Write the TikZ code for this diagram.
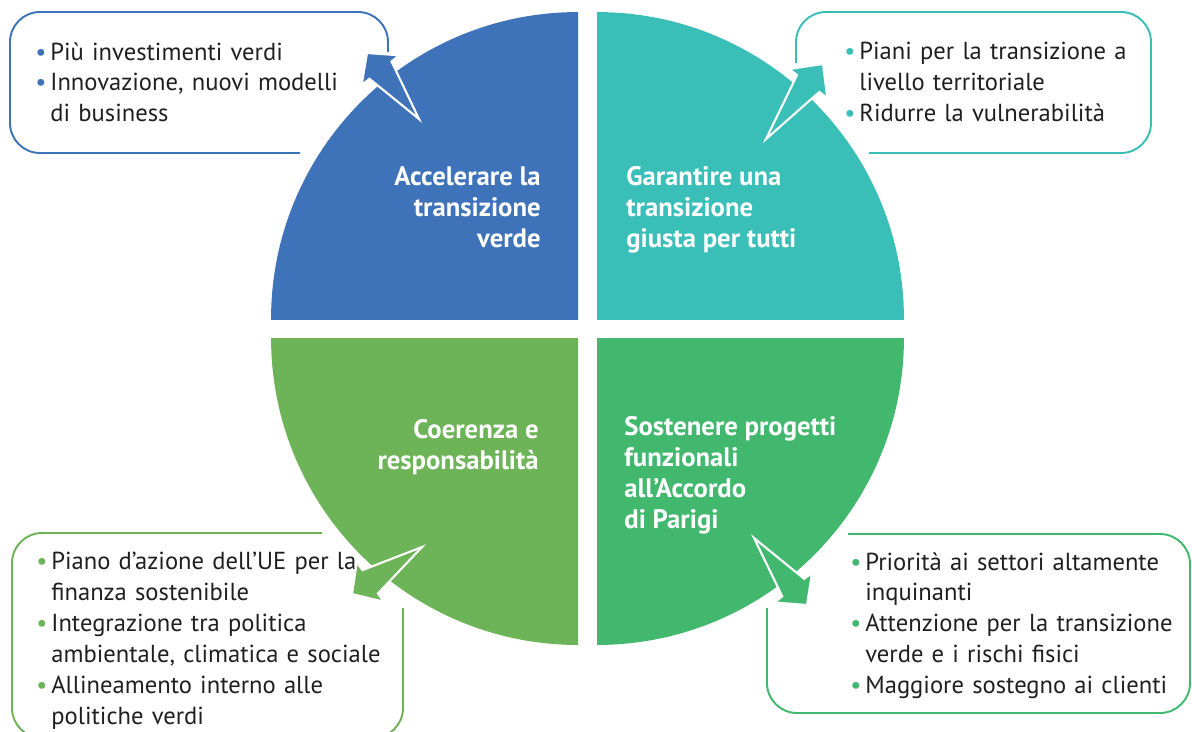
\documentclass[tikz,border=0pt]{standalone}
\usepackage{fontspec}
\setmainfont{PT Sans}
\usetikzlibrary{calc}

\definecolor{qblue}{RGB}{63,115,185}
\definecolor{qteal}{RGB}{57,190,184}
\definecolor{qlime}{RGB}{109,179,88}
\definecolor{qgreen}{RGB}{66,184,110}
\colorlet{note text}{black!88}

\def\quarterradius{6.14cm}
\newcommand\notedot[2]{\noindent\hangindent=0.3cm\hangafter=1%
  \makebox[0.3cm][l]{\textcolor{#1}{\textbullet}}#2\par}
\newcommand\fatarrow[3]{%
  \path[fat arrow=#1] (#2)
    -- ($(#2)!0.74!(#3)!0.28cm!90:(#3)$)
    -- ($(#2)!0.74!(#3)!0.48cm!90:(#3)$)
    -- (#3)
    -- ($(#2)!0.74!(#3)!0.48cm!-90:(#3)$)
    -- ($(#2)!0.74!(#3)!0.28cm!-90:(#3)$)
    -- cycle;}

\tikzset{
  quarter/.style={fill=#1},
  frame/.style={draw=#1, line width=1.1pt, rounded corners=0.6cm},
  fat arrow/.style={fill=#1, draw=white, line width=1.2pt},
  headline/.style={text=white, font=\bfseries\fontsize{15.2}{17.6}\selectfont, inner sep=0pt},
  notes/.style={text=note text, font=\fontsize{14}{17.6}\selectfont, inner sep=0pt,
    text width=8cm, anchor=north west},
}

\begin{document}
\begin{tikzpicture}[x=0.02cm, y=-0.02cm]
  \useasboundingbox (0,0) rectangle (1192,731);

  % boxes behind the circle
  \draw[frame=qblue]  (388,52) -- (388,12) -- (10,12) -- (10,153) -- (300,153);
  \draw[frame=qteal]  (796,63) -- (796,12) -- (1151,12) -- (1151,153) -- (869,153);
  \draw[frame=qlime]  (322,533) -- (12,533) -- (12,738) -- (403,738) -- (403,608);
  \draw[frame=qgreen] (848,534) -- (1190,534) -- (1190,713) -- (767,713) -- (767,608);

  % the four quarters
  \begin{scope}
    \clip (260,0) rectangle (578,319);
    \fill[quarter=qblue] (578,319) circle[radius=\quarterradius];
  \end{scope}
  \begin{scope}
    \clip (597,0) rectangle (920,319);
    \fill[quarter=qteal] (597,319) circle[radius=\quarterradius];
  \end{scope}
  \begin{scope}
    \clip (260,338) rectangle (578,660);
    \fill[quarter=qlime] (578,338) circle[radius=\quarterradius];
  \end{scope}
  \begin{scope}
    \clip (597,338) rectangle (920,660);
    \fill[quarter=qgreen] (597,338) circle[radius=\quarterradius];
  \end{scope}

  % arrows out to the boxes
  \coordinate (accel tail) at (419,119);
  \coordinate (accel tip)  at (367,53);
  \coordinate (fair tail)  at (766,139);
  \coordinate (fair tip)   at (823,64);
  \coordinate (coher tail) at (422,547);
  \coordinate (coher tip)  at (352,594);
  \coordinate (paris tail) at (754,538);
  \coordinate (paris tip)  at (807,605);
  \fatarrow{qblue}{accel tail}{accel tip}
  \fatarrow{qteal}{fair tail}{fair tip}
  \fatarrow{qlime}{coher tail}{coher tip}
  \fatarrow{qgreen}{paris tail}{paris tip}

  % headlines
  \node[headline, anchor=north east, align=right] (accel) at (541,166)
    {Accelerare la\\transizione\\verde};
  \node[headline, anchor=north west, align=left] (fair) at (626,166)
    {Garantire una\\transizione\\giusta per tutti};
  \node[headline, anchor=north east, align=right] (coher) at (539,419)
    {Coerenza e\\responsabilità};
  \node[headline, anchor=north west, align=left] (paris) at (624,416)
    {Sostenere progetti\\funzionali\\all'Accordo\\di Parigi};

  % notes
  \node[notes] (accel notes) at (35,42) {%
    \notedot{qblue}{Più investimenti verdi}%
    \notedot{qblue}{Innovazione, nuovi modelli\newline di business}};
  \node[notes] (fair notes) at (844,42) {%
    \notedot{qteal}{Piani per la transizione a\newline livello territoriale}%
    \notedot{qteal}{Ridurre la vulnerabilità}};
  \node[notes] (coher notes) at (36,552) {%
    \notedot{qlime}{Piano d’azione dell’UE per la\newline finanza sostenibile}%
    \notedot{qlime}{Integrazione tra politica\newline ambientale, climatica e sociale}%
    \notedot{qlime}{Allineamento interno alle\newline politiche verdi}};
  \node[notes] (paris notes) at (850,552) {%
    \notedot{qgreen}{Priorità ai settori altamente\newline inquinanti}%
    \notedot{qgreen}{Attenzione per la transizione\newline verde e i rischi fisici}%
    \notedot{qgreen}{Maggiore sostegno ai clienti}};
\end{tikzpicture}
\end{document}
